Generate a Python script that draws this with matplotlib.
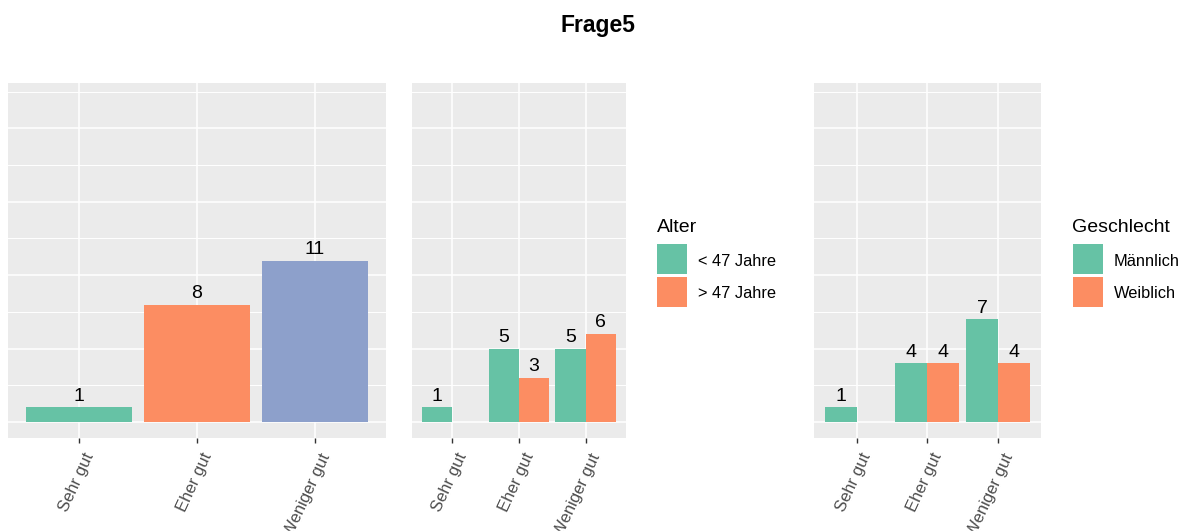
import matplotlib
matplotlib.use("Agg")
import matplotlib.pyplot as plt
from matplotlib.patches import Rectangle
from matplotlib.transforms import ScaledTranslation
import numpy as np

plt.rcParams['font.family'] = ['Liberation Sans', 'DejaVu Sans']

# ---- data ----
categories = ["Sehr gut", "Eher gut", "Weniger gut"]
total_counts = [1, 8, 11]
alter_groups = ["< 47 Jahre", "> 47 Jahre"]
alter_lt47 = [1, 5, 5]
alter_gt47 = [np.nan, 3, 6]
geschlecht_groups = ["Männlich", "Weiblich"]
geschl_m = [1, 4, 7]
geschl_w = [np.nan, 4, 4]
title = "Frage5"

set2 = ["#66C2A5", "#FC8D62", "#8DA0CB"]

W, H = 1184, 531
fig = plt.figure(figsize=(W / 100, H / 100), dpi=100)


def rect(x0, x1, y0, y1):
    return [x0 / W, 1 - y1 / H, (x1 - x0) / W, (y1 - y0) / H]


def style(ax):
    ax.set_facecolor("#EBEBEB")
    for s in ax.spines.values():
        s.set_visible(False)
    ax.set_xlim(0.4, 3.6)
    ax.set_ylim(-1.1, 23.1)
    ax.set_yticks([0, 5, 10, 15, 20])
    ax.set_yticks(np.arange(2.5, 23, 5), minor=True)
    ax.tick_params(axis='y', which='both', length=0, labelleft=False)
    ax.grid(which='major', color='white', lw=1.1)
    ax.grid(which='minor', axis='y', color='white', lw=0.7)
    ax.set_axisbelow(True)
    x = np.arange(1, len(categories) + 1)
    ax.set_xticks(x)
    ax.set_xticklabels(categories, rotation=65, ha='right', va='top',
                       rotation_mode='anchor', fontsize=12, color='#4D4D4D')
    ax.tick_params(axis='x', length=3.7, width=1.0, color='#333333', pad=4)
    for lab in ax.get_xticklabels():
        lab.set_transform(lab.get_transform() +
                          ScaledTranslation(4 / 100, -2 / 100, fig.dpi_scale_trans))


def label(ax, xs, vals):
    for xv, v in zip(xs, vals):
        if np.isnan(v):
            continue
        ax.annotate(f"{int(v)}", (xv, v), xytext=(0, 4.8), textcoords='offset points',
                    ha='center', va='baseline', fontsize=14, color='black')


x = np.arange(1, len(categories) + 1)

ax1 = fig.add_axes(rect(8, 386, 83, 438))
style(ax1)
ax1.bar(x, total_counts, width=0.9, color=set2[:3])
label(ax1, x, np.array(total_counts, float))

ax2 = fig.add_axes(rect(411.7, 625.7, 83, 438))
style(ax2)
a1 = np.array(alter_lt47, float)
a2 = np.array(alter_gt47, float)
ax2.bar(x - 0.225, a1, width=0.45, color=set2[0])
ax2.bar(x + 0.225, a2, width=0.45, color=set2[1])
label(ax2, x - 0.225, a1)
label(ax2, x + 0.225, a2)

ax3 = fig.add_axes(rect(814, 1040.7, 83, 438))
style(ax3)
g1 = np.array(geschl_m, float)
g2 = np.array(geschl_w, float)
ax3.bar(x - 0.225, g1, width=0.45, color=set2[0])
ax3.bar(x + 0.225, g2, width=0.45, color=set2[1])
label(ax3, x - 0.225, g1)
label(ax3, x + 0.225, g2)

fig.text(598 / W, 1 - 32 / H, title, ha='center', va='baseline',
         fontsize=16.5, fontweight='bold')


def legend(x0, title_txt, items):
    fig.text(x0 / W, 1 - 231.7 / H, title_txt, ha='left', va='baseline', fontsize=14)
    tops = [244.3, 276.7]
    for (name, col), top in zip(items, tops):
        fig.add_artist(Rectangle((x0 + 0.5, H - (top + 30)), 30, 30,
                                 transform=None, facecolor=col, edgecolor='none'))
        fig.text((x0 + 41.5) / W, 1 - (top + 15 + 6.5) / H, name, ha='left',
                 va='baseline', fontsize=11.8)


legend(656.7, "Alter", list(zip(alter_groups, set2[:2])))
legend(1072.2, "Geschlecht", list(zip(geschlecht_groups, set2[:2])))

fig.savefig("out.png", dpi=100)
